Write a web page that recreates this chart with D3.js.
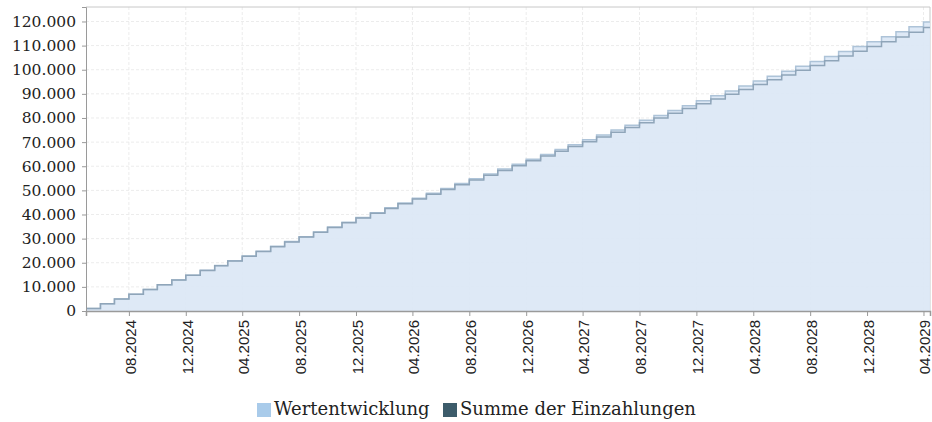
<!DOCTYPE html>
<html>
<head>
<meta charset="utf-8">
<script src="https://cdn.jsdelivr.net/npm/d3@7"></script>
<style>
  html, body { margin: 0; padding: 0; background: #fff; }
  #chart { width: 932px; height: 422px; }
  .ylab text { font-family: "DejaVu Serif", serif; font-size: 15.5px; fill: #222; }
  .xlab text { font-family: "Liberation Sans", Arial, sans-serif; font-size: 15px; fill: #222; }
  .legend text { font-family: "DejaVu Serif", serif; font-size: 18px; fill: #222; }
</style>
</head>
<body>
<div id="chart"></div>
<script>
// monthly values, May 2024 .. Apr 2029
const startMonth = new Date(2024, 4, 1);
const endDomain  = new Date(2029, 3, 15);

const einzahlungen = [
  1000, 2980, 4950, 6930, 8900, 10880, 12850, 14830, 16800, 18780,
  20750, 22730, 24700, 26680, 28650, 30630, 32600, 34580, 36550, 38530,
  40500, 42480, 44450, 46430, 48400, 50380, 52350, 54330, 56300, 58280,
  60250, 62230, 64200, 66180, 68150, 70130, 72100, 74080, 76050, 78030,
  80000, 81980, 83950, 85930, 87900, 89880, 91850, 93830, 95800, 97780,
  99750, 101730, 103700, 105680, 107650, 109630, 111600, 113580, 115550, 117530
];
const wertentwicklung = [
  1000, 2980, 4950, 6930, 8910, 10890, 12870, 14860, 16840, 18830,
  20820, 22810, 24800, 26790, 28780, 30770, 32770, 34770, 36760, 38760,
  40760, 42770, 44770, 46780, 48780, 50790, 52800, 54810, 56820, 58830,
  60850, 62860, 64880, 66900, 68910, 70930, 72960, 74980, 77000, 79030,
  81060, 83090, 85120, 87150, 89180, 91210, 93250, 95280, 97320, 99360,
  101400, 103440, 105490, 107530, 109580, 111620, 113670, 115720, 117770, 119830
];

const xTickLabels = ['08.2024','12.2024','04.2025','08.2025','12.2025','04.2026','08.2026',
  '12.2026','04.2027','08.2027','12.2027','04.2028','08.2028','12.2028','04.2029'];
const yTicks = [0,10000,20000,30000,40000,50000,60000,70000,80000,90000,100000,110000,120000];
const seriesNames = ['Wertentwicklung','Summe der Einzahlungen'];
const seriesColors = ['#a9cbea','#3d5c6b'];

const margin = {top: 7, right: 2, bottom: 111, left: 86};
const Wt = 932, Ht = 422;
const W = Wt - margin.left - margin.right;
const H = Ht - margin.top - margin.bottom;

const de = d3.formatLocale({decimal: ',', thousands: '.', grouping: [3], currency: ['', ' €']});
const fmt = de.format(',');

const months = d3.timeMonth.range(startMonth, d3.timeMonth.offset(startMonth, einzahlungen.length));
const parseTick = d3.timeParse('%m.%Y');

const rows = months.map((m, i) => ({date: m, w: wertentwicklung[i], e: einzahlungen[i]}));
// carry last value to right edge of plot
rows.push({date: endDomain, w: wertentwicklung[wertentwicklung.length-1], e: einzahlungen[einzahlungen.length-1]});

const svgRoot = d3.select('#chart').append('svg')
  .attr('width', Wt).attr('height', Ht);
const svg = svgRoot.append('g')
  .attr('transform', `translate(${margin.left},${margin.top})`);

const x = d3.scaleTime().domain([startMonth, endDomain]).range([0, W]);
const y = d3.scaleLinear().domain([0, 126000]).range([H, 0]);

// grid
const grid = svg.append('g').attr('class', 'grid');
grid.selectAll('.hg').data(yTicks).enter().append('line')
  .attr('x1', 0).attr('x2', W)
  .attr('y1', d => y(d)).attr('y2', d => y(d))
  .attr('stroke', '#ececec').attr('stroke-dasharray', '3,2');
grid.selectAll('.vg').data(xTickLabels).enter().append('line')
  .attr('x1', d => x(parseTick(d))).attr('x2', d => x(parseTick(d)))
  .attr('y1', 0).attr('y2', H)
  .attr('stroke', '#ececec').attr('stroke-dasharray', '3,2');

// frame (top / right)
svg.append('path')
  .attr('d', `M0,0H${W}V${H}`)
  .attr('fill', 'none').attr('stroke', '#c8c8c8');

const area = d3.area().curve(d3.curveStepAfter)
  .x(d => x(d.date)).y0(y(0)).y1(d => y(d.w));
const lineW = d3.line().curve(d3.curveStepAfter)
  .x(d => x(d.date)).y(d => y(d.w));
const lineE = d3.line().curve(d3.curveStepAfter)
  .x(d => x(d.date)).y(d => y(d.e));

svg.append('path').datum(rows).attr('d', area)
  .attr('fill', '#dbe7f5').attr('fill-opacity', 0.92);
svg.append('path').datum(rows).attr('d', lineW)
  .attr('fill', 'none').attr('stroke', '#adc3d8').attr('stroke-width', 1.5);
svg.append('path').datum(rows).attr('d', lineE)
  .attr('fill', 'none').attr('stroke', '#8fa5b9').attr('stroke-width', 1.5);

// y axis
const yAxis = svg.append('g').attr('class', 'ylab')
  .call(d3.axisLeft(y).tickValues(yTicks).tickFormat(fmt).tickSize(4).tickPadding(6));
yAxis.select('.domain').attr('stroke', '#9a9a9a');
yAxis.selectAll('.tick line').attr('stroke', '#9a9a9a');

// x axis
const xAxis = svg.append('g').attr('class', 'xlab')
  .attr('transform', `translate(0,${H})`)
  .call(d3.axisBottom(x).tickValues(xTickLabels.map(parseTick))
    .tickFormat(d3.timeFormat('%m.%Y')).tickSize(5).tickPadding(4));
xAxis.select('.domain').attr('stroke', '#9a9a9a').attr('stroke-width', 1.5);
xAxis.selectAll('.tick line').attr('stroke', '#9a9a9a');
xAxis.selectAll('.tick text')
  .attr('transform', 'rotate(-90)')
  .attr('text-anchor', 'end')
  .attr('x', -9).attr('y', 1).attr('dy', '0.35em');

// legend
const legend = svgRoot.append('g').attr('class', 'legend')
  .attr('transform', 'translate(257,403)');
const items = [{x: 0}, {x: 186}];
seriesNames.forEach((name, i) => {
  const g = legend.append('g').attr('transform', `translate(${items[i].x},0)`);
  g.append('rect').attr('width', 14).attr('height', 14).attr('fill', seriesColors[i]);
  g.append('text').attr('x', 17).attr('y', 12).text(name);
});
</script>
</body>
</html>
